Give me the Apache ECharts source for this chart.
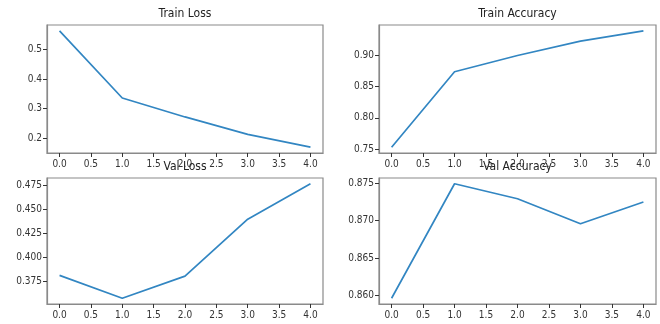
<!DOCTYPE html>
<html><head><meta charset="utf-8">
<script src="https://cdn.jsdelivr.net/npm/echarts@6/dist/echarts.min.js"></script>
<style>html,body{margin:0;padding:0;background:#fff}#c{width:660px;height:324px}</style>
</head><body><div id="c"></div>
<script>
const epochs = [0, 1, 2, 3, 4];
const trainLoss = [0.5625, 0.336, 0.272, 0.213, 0.170];
const trainAcc = [0.753, 0.874, 0.900, 0.923, 0.9396];
const valLoss = [0.3812, 0.3574, 0.3805, 0.4398, 0.4767];
const valAcc = [0.85964, 0.8749, 0.8729, 0.86957, 0.87246];
const xTicks = [0, 0.5, 1, 1.5, 2, 2.5, 3, 3.5, 4];
const trainLossTicks = [0.2, 0.3, 0.4, 0.5];
const trainAccTicks = [0.75, 0.80, 0.85, 0.90];
const valLossTicks = [0.375, 0.400, 0.425, 0.450, 0.475];
const valAccTicks = [0.860, 0.865, 0.870, 0.875];
const titles = ['Train Loss', 'Train Accuracy', 'Val Loss', 'Val Accuracy'];

const FONT = '"Liberation Sans Narrow", "DejaVu Sans Condensed", sans-serif';
const panels = [
  {data: trainLoss, ticks: trainLossTicks, dec: 1, grid: {left: 47, top: 25, width: 276, height: 128}},
  {data: trainAcc, ticks: trainAccTicks, dec: 2, grid: {left: 379, top: 25, width: 277, height: 128}},
  {data: valLoss, ticks: valLossTicks, dec: 3, grid: {left: 47, top: 178, width: 276, height: 126}},
  {data: valAcc, ticks: valAccTicks, dec: 3, grid: {left: 379, top: 178, width: 277, height: 126}}
];

function range(arr) {
  const mn = Math.min(...arr), mx = Math.max(...arr), m = (mx - mn) * 0.05;
  return [mn - m, mx + m];
}

const BORDER = '#8a8a8a';
const grid = [], xAxis = [], yAxis = [], series = [], graphic = [];
panels.forEach((p, i) => {
  grid.push(Object.assign({show: true, borderColor: BORDER, borderWidth: 1.2}, p.grid));
  xAxis.push({
    type: 'value', gridIndex: i, min: -0.2, max: 4.2,
    axisLine: {show: true, onZero: false, lineStyle: {color: BORDER, width: 1.2}}, splitLine: {show: false},
    axisTick: {show: true, inside: false, customValues: xTicks, length: 4, lineStyle: {color: '#333', width: 1}},
    axisLabel: {customValues: xTicks, formatter: v => v.toFixed(1), fontFamily: FONT, fontSize: 10, color: '#333', margin: 6}
  });
  const r = range(p.data);
  yAxis.push({
    type: 'value', gridIndex: i, min: r[0], max: r[1],
    axisLine: {show: true, onZero: false, lineStyle: {color: BORDER, width: 1.2}}, splitLine: {show: false},
    axisTick: {show: true, inside: false, customValues: p.ticks, length: 4, lineStyle: {color: '#333', width: 1}},
    axisLabel: {customValues: p.ticks, formatter: v => v.toFixed(p.dec), fontFamily: FONT, fontSize: 10, color: '#333', margin: 5}
  });
  series.push({
    type: 'line', xAxisIndex: i, yAxisIndex: i,
    data: epochs.map((e, k) => [e, p.data[k]]),
    showSymbol: false, lineStyle: {color: '#3286c2', width: 1.7}, animation: false
  });
  graphic.push({
    type: 'text', x: p.grid.left + p.grid.width / 2, y: p.grid.top - 11,
    style: {text: titles[i], fill: '#222', font: '12px ' + FONT, textAlign: 'center', textVerticalAlign: 'middle'},
    z: 100
  });
});

const chart = echarts.init(document.getElementById('c'), null, {renderer: 'canvas'});
chart.setOption({animation: false, grid, xAxis, yAxis, series, graphic});
</script></body></html>
